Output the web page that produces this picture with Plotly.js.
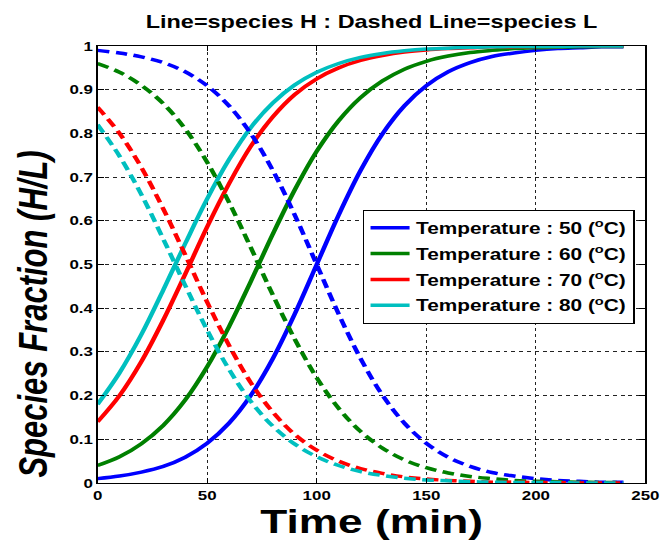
<!DOCTYPE html>
<html>
<head>
<meta charset="utf-8">
<script src="https://cdn.plot.ly/plotly-3.0.1.min.js"></script>
<style>
  html, body { margin: 0; padding: 0; background: #fff; }
  #wrap { width: 661px; height: 541px; overflow: hidden; position: relative; }
  #chart { width: 508px; height: 541px; transform: scaleX(1.3012); transform-origin: 0 0; }
</style>
</head>
<body>
<div id="wrap"><div id="chart"></div></div>
<script>
// time (min)
const time = [0,10,20,30,40,50,60,70,80,90,100,110,120,130,140,150,160,170,180,190,200,210,220,230,240];

// species H fraction (solid lines)
const H50 = [0.010,0.016,0.025,0.038,0.059,0.091,0.137,0.201,0.285,0.387,0.500,0.613,0.715,0.799,0.863,0.909,0.941,0.962,0.976,0.984,0.990,0.994,0.996,0.998,0.998];
const H60 = [0.040,0.060,0.090,0.132,0.190,0.266,0.358,0.462,0.570,0.671,0.759,0.829,0.882,0.920,0.947,0.965,0.977,0.985,0.990,0.994,0.996,0.997,0.998,0.999,0.999];
const H70 = [0.140,0.200,0.278,0.373,0.478,0.586,0.685,0.771,0.838,0.889,0.925,0.950,0.967,0.978,0.986,0.991,0.994,0.996,0.998,0.998,0.999,0.999,1.000,1.000,1.000];
const H80 = [0.180,0.252,0.340,0.442,0.548,0.650,0.740,0.814,0.870,0.911,0.940,0.960,0.974,0.983,0.989,0.993,0.995,0.997,0.998,0.999,0.999,0.999,1.000,1.000,1.000];

// species L fraction (dashed lines)
const L50 = [0.990,0.984,0.975,0.962,0.941,0.909,0.863,0.799,0.715,0.613,0.500,0.387,0.285,0.201,0.137,0.091,0.059,0.038,0.024,0.016,0.010,0.006,0.004,0.002,0.002];
const L60 = [0.960,0.940,0.910,0.868,0.810,0.734,0.642,0.538,0.430,0.329,0.241,0.171,0.118,0.080,0.053,0.035,0.023,0.015,0.010,0.006,0.004,0.003,0.002,0.001,0.001];
const L70 = [0.860,0.800,0.722,0.627,0.522,0.414,0.315,0.229,0.162,0.111,0.075,0.050,0.033,0.022,0.014,0.009,0.006,0.004,0.002,0.002,0.001,0.001,0.000,0.000,0.000];
const L80 = [0.820,0.748,0.660,0.558,0.452,0.350,0.260,0.186,0.130,0.089,0.060,0.040,0.026,0.017,0.011,0.007,0.005,0.003,0.002,0.001,0.001,0.001,0.000,0.000,0.000];

const legendNames = ['Temperature : 50 (<sup>o</sup>C)','Temperature : 60 (<sup>o</sup>C)','Temperature : 70 (<sup>o</sup>C)','Temperature : 80 (<sup>o</sup>C)'];
const colors = ['#0000ff','#008000','#ff0000','#00bfbf'];
const Hs = [H50,H60,H70,H80];
const Ls = [L50,L60,L70,L80];

const FONT = 'Liberation Sans, Arial, Helvetica, sans-serif';

const traces = [];
for (let i = 0; i < 4; i++) {
  traces.push({
    x: time, y: Hs[i], type: 'scatter', mode: 'lines',
    name: legendNames[i], legendgroup: 'g' + i,
    line: {color: colors[i], width: 3.5, shape: 'spline'}
  });
}
for (let i = 0; i < 4; i++) {
  traces.push({
    x: time, y: Ls[i], type: 'scatter', mode: 'lines',
    name: legendNames[i], legendgroup: 'g' + i, showlegend: false,
    line: {color: colors[i], width: 3.5, dash: '9px,5px', shape: 'spline'}
  });
}

const axisCommon = {
  showline: true, linecolor: '#000', linewidth: 1, mirror: 'allticks',
  ticks: 'inside', ticklen: 5, tickcolor: '#000', tickwidth: 1,
  showgrid: true, gridcolor: '#222', gridwidth: 1, griddash: 'dot',
  zeroline: false,
  tickfont: {family: FONT, size: 13, color: '#000', weight: 'bold'}
};

const layout = {
  width: 508, height: 541,
  margin: {l: 74.5, r: 12, t: 46, b: 58},
  paper_bgcolor: '#fff', plot_bgcolor: '#fff',
  showlegend: true,
  title: {
    text: 'Line=species H : Dashed Line=species L',
    font: {family: FONT, size: 18, color: '#000', weight: 'bold'},
    x: 0.5, xref: 'paper', xanchor: 'center',
    y: 1 - 22/541, yref: 'container', yanchor: 'middle'
  },
  xaxis: Object.assign({}, axisCommon, {range: [0, 250], dtick: 50, tick0: 0}),
  yaxis: Object.assign({}, axisCommon, {range: [0, 1], dtick: 0.1, tick0: 0}),
  legend: {
    x: 0.484, y: 0.625, xanchor: 'left', yanchor: 'top',
    bgcolor: '#fff', bordercolor: '#000', borderwidth: 1,
    font: {family: FONT, size: 16, color: '#000', weight: 'bold'},
    traceorder: 'grouped', tracegroupgap: 2
  },
  annotations: [
    {
      text: 'Time (min)', xref: 'paper', yref: 'paper', x: 0.5, y: -0.087,
      xanchor: 'center', yanchor: 'middle', showarrow: false,
      font: {family: FONT, size: 34, color: '#000', weight: 'bold'}
    },
    {
      text: '<i>Species Fraction (H/L)</i>', xref: 'paper', yref: 'paper', x: -0.117, y: 0.387,
      xanchor: 'center', yanchor: 'middle', showarrow: false, textangle: -90,
      font: {family: FONT, size: 31, color: '#000', weight: 'bold'}
    }
  ]
};

Plotly.newPlot('chart', traces, layout, {displayModeBar: false, staticPlot: true});
</script>
</body>
</html>
